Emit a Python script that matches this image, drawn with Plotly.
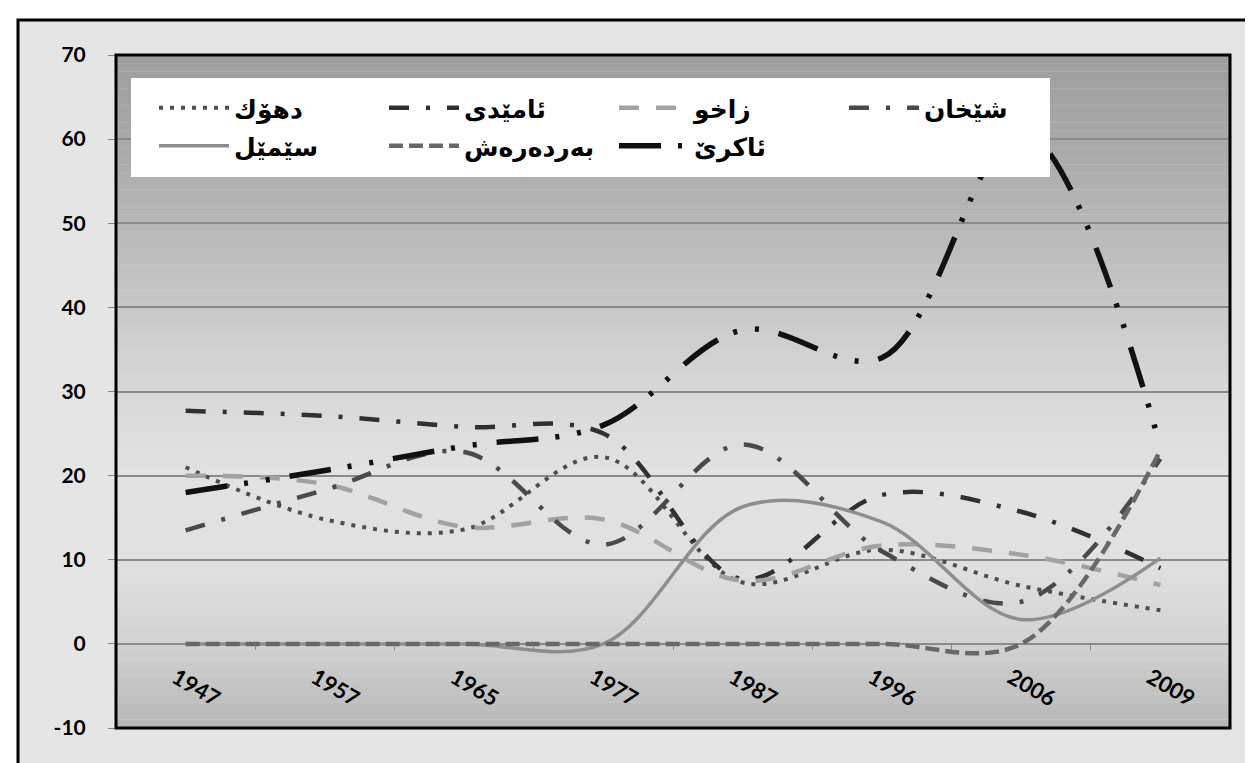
import plotly.graph_objects as go

# ---- data ----
years = ["1947", "1957", "1965", "1977", "1987", "1996", "2006", "2009"]
duhok = [21.0, 14.8, 13.6, 22.2, 7.3, 11.2, 6.9, 4.0]
amedi = [27.7, 27.1, 25.8, 25.0, 7.7, 17.7, 15.7, 9.0]
zakho = [20.0, 19.0, 13.9, 14.8, 7.5, 11.7, 10.6, 7.0]
shekhan = [13.5, 18.3, 22.8, 11.8, 23.7, 11.0, 5.0, 22.0]
semel = [0.0, 0.0, 0.0, 0.0, 16.3, 14.5, 2.9, 10.2]
bardarash = [0.0, 0.0, 0.0, 0.0, 0.0, 0.0, 0.0, 23.0]
akre = [18.0, 20.6, 23.5, 26.0, 37.3, 34.0, 61.0, 23.5]

names = {
    "duhok": "دهۆك",
    "amedi": "ئامێدی",
    "zakho": "زاخو",
    "shekhan": "شێخان",
    "semel": "سێمێل",
    "bardarash": "بەردەرەش",
    "akre": "ئاکرێ",
}

y_ticks = [-10, 0, 10, 20, 30, 40, 50, 60, 70]
y_ticktext = ["-10", "0", "10", "20", "30", "40", "50", "60", "70"]

W, H = 1253, 763
ML, MR, MT, MB = 108, 31, 47, 43
PW = W - ML - MR
PH = H - MT - MB


def px_x(p):
    return (p - ML) / PW


def px_y(p):
    return (H - MB - p) / PH


styles = [
    ("duhok", duhok, "#4e4e4e", 4, "4px,7px", "legend"),
    ("amedi", amedi, "#303030", 4.5, "20px,17px,4px,17px", "legend"),
    ("zakho", zakho, "#a2a2a2", 4.5, "20px,17px", "legend"),
    ("shekhan", shekhan, "#4a4a4a", 4.5, "20px,17px,4px,17px", "legend"),
    ("semel", semel, "#8e8e8e", 3.5, "solid", "legend2"),
    ("bardarash", bardarash, "#686868", 4.5, "14px,6px", "legend2"),
    ("akre", akre, "#101010", 5.5, "42px,17px,4px,18px,4px,20px", "legend2"),
]

fig = go.Figure()
for key, vals, col, wd, dash, lg in styles:
    fig.add_trace(go.Scatter(
        x=years, y=vals, mode="lines", name="<b>" + names[key] + "</b>",
        line=dict(color=col, width=wd, dash=dash, shape="spline", smoothing=1),
        legend=lg, hoverinfo="skip",
    ))

shapes = []
# outer framed background
shapes.append(dict(type="rect", xref="paper", yref="paper",
                   x0=px_x(10), x1=px_x(1243), y0=px_y(775), y1=px_y(12),
                   fillcolor="#e5e5e5", line=dict(color="black", width=3), layer="below"))
# gradient inside plot area
stops = [(-10, 182), (0, 210), (10, 225), (20, 226), (30, 216), (40, 200), (50, 183), (60, 168), (70, 158)]
n = 80
for i in range(n):
    a = -10 + 80 * i / n
    b = -10 + 80 * (i + 1) / n
    m = (a + b) / 2
    for j in range(len(stops) - 1):
        if stops[j][0] <= m <= stops[j + 1][0]:
            t = (m - stops[j][0]) / (stops[j + 1][0] - stops[j][0])
            g = int(round(stops[j][1] + t * (stops[j + 1][1] - stops[j][1])))
            break
    shapes.append(dict(type="rect", xref="x", yref="y", x0=-0.5, x1=7.5, y0=a, y1=b + 0.02,
                       fillcolor="rgb(%d,%d,%d)" % (g, g, g), line=dict(width=0), layer="below"))
# white legend box
shapes.append(dict(type="rect", xref="paper", yref="paper",
                   x0=px_x(123), x1=px_x(1042), y0=px_y(169), y1=px_y(70),
                   fillcolor="white", line=dict(width=0), layer="above"))
# plot frame
shapes.append(dict(type="rect", xref="paper", yref="paper", x0=0, x1=1, y0=0, y1=1,
                   line=dict(color="black", width=3), layer="above"))

legend_common = dict(orientation="h", xanchor="left", yanchor="middle",
                     entrywidth=145, entrywidthmode="pixels", itemwidth=70,
                     bgcolor="rgba(0,0,0,0)", borderwidth=0,
                     font=dict(family="DejaVu Sans", size=25, color="black"),
                     traceorder="normal")

fig.update_layout(
    width=W, height=H,
    margin=dict(l=ML, r=MR, t=MT, b=MB, pad=0),
    paper_bgcolor="white", plot_bgcolor="#d8d8d8",
    shapes=shapes,
    showlegend=True,
    legend=dict(x=px_x(146), y=px_y(100), **legend_common),
    legend2=dict(x=px_x(146), y=px_y(138), **legend_common),
    xaxis=dict(type="category", categoryorder="array", categoryarray=years,
               range=[-0.5, 7.5], anchor="free", position=px_y(636),
               showgrid=False, zeroline=False, showline=False,
               tickson="boundaries", ticks="outside", ticklen=5, tickcolor="#888", tickwidth=1,
               tickangle=30, ticklabelstandoff=16, ticklabelshift=-10,
               tickfont=dict(family="Lato", size=22, color="black", weight="bold")),
    yaxis=dict(range=[-10, 70], tickvals=y_ticks, ticktext=y_ticktext,
               showgrid=True, gridcolor="#8a8a8a", gridwidth=1.5,
               zeroline=False, showline=False, ticks="outside", ticklen=7, tickcolor="#888",
               tickfont=dict(family="Lato", size=21, color="black", weight="bold"),
               ticklabelstandoff=18),
)

fig.write_html("out.html")
